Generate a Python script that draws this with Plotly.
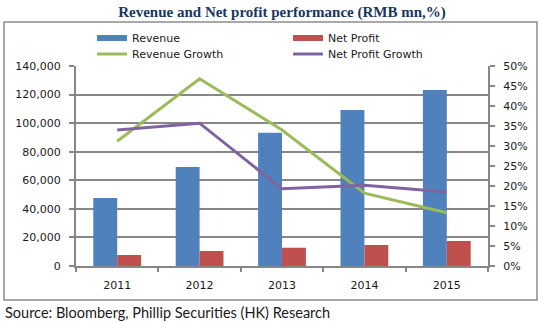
import plotly.graph_objects as go

years = ["2011", "2012", "2013", "2014", "2015"]
revenue = [47600, 69300, 93300, 109200, 123200]
net_profit = [7700, 10500, 12800, 14700, 17500]
revenue_growth = [31.2, 46.8, 34.0, 18.2, 13.3]
np_growth = [34.0, 35.7, 19.3, 20.2, 18.5]

left_ticks = [0, 20000, 40000, 60000, 80000, 100000, 120000, 140000]
right_ticks = [0, 5, 10, 15, 20, 25, 30, 35, 40, 45, 50]

C_REV = "#4F81BD"
C_NP = "#C0504D"
C_RG = "#9BBB59"
C_NG = "#8064A2"
GRID = "#878787"

W, H = 541, 323
L, R, T, B = 76, 488, 66, 266

def px_x(p):
    return (p - L) / (R - L)

def px_y(p):
    return (B - p) / (B - T)

fig = go.Figure()
fig.add_trace(go.Bar(x=years, y=revenue, name="Revenue", marker_color=C_REV,
                     marker_line_width=0, showlegend=False))
fig.add_trace(go.Bar(x=years, y=net_profit, name="Net Profit", marker_color=C_NP,
                     marker_line_width=0, showlegend=False))
fig.add_trace(go.Scatter(x=years, y=revenue_growth, name="Revenue Growth", mode="lines",
                         line=dict(color=C_RG, width=3), yaxis="y2", showlegend=False))
fig.add_trace(go.Scatter(x=years, y=np_growth, name="Net Profit Growth", mode="lines",
                         line=dict(color=C_NG, width=3), yaxis="y2", showlegend=False))

tickfont = dict(family="DejaVu Sans", size=11, color="#1a1a1a")
legfont = dict(family="DejaVu Sans", size=11, color="#1a1a1a")

# legend entries (bars shown as thick lines like the reference), one legend per slot
slots = [("Revenue", C_REV, 6, "legend", 92, 38),
         ("Net Profit", C_NP, 6, "legend2", 288, 38),
         ("Revenue Growth", C_RG, 3, "legend3", 92, 54),
         ("Net Profit Growth", C_NG, 3, "legend4", 288, 54)]
legend_layout = {}
for name, col, w, lg, lx, ly in slots:
    fig.add_trace(go.Scatter(x=[None], y=[None], name=name, mode="lines",
                             line=dict(color=col, width=w), legend=lg, showlegend=True))
    legend_layout[lg] = dict(orientation="h", x=px_x(lx), y=px_y(ly), xanchor="left",
                             yanchor="middle", font=legfont, bgcolor="rgba(0,0,0,0)",
                             borderwidth=0, itemwidth=30)

fig.update_layout(
    width=W, height=H,
    margin=dict(l=L, r=W - R, t=T, b=H - B, pad=0, autoexpand=False),
    paper_bgcolor="white", plot_bgcolor="white",
    barmode="group", bargap=0.42, bargroupgap=0,
    title=dict(text="<b>Revenue and Net profit performance (RMB mn,%)</b>",
               font=dict(family="Liberation Serif", size=15, color="#17375E"),
               x=0.5, xanchor="center", xref="paper", y=1 - 12 / H, yanchor="middle"),
    xaxis=dict(type="category", showgrid=False, showline=True, linecolor=GRID, linewidth=2,
               ticks="outside", tickson="boundaries", ticklen=4, tickcolor=GRID, tickwidth=2,
               tickfont=tickfont, ticklabelstandoff=8, automargin=False),
    yaxis=dict(range=[0, 140000], tickvals=left_ticks, ticktext=[f"{v:,}" for v in left_ticks],
               showgrid=True, gridcolor=GRID, gridwidth=2, showline=True, linecolor=GRID,
               linewidth=2, ticks="outside", ticklen=5, tickcolor=GRID, tickwidth=2,
               tickfont=tickfont, ticklabelstandoff=6, zeroline=False, automargin=False),
    yaxis2=dict(range=[0, 50], tickvals=right_ticks, ticktext=[f"{v}%" for v in right_ticks],
                overlaying="y", side="right", showgrid=False, showline=True, linecolor=GRID,
                linewidth=2, ticks="outside", ticklen=5, tickcolor=GRID, tickwidth=2,
                tickfont=tickfont, ticklabelstandoff=6, zeroline=False, automargin=False),
    showlegend=True,
    **legend_layout,
)

fig.add_shape(type="rect", xref="paper", yref="paper",
              x0=px_x(4), x1=px_x(537), y0=px_y(300), y1=px_y(22),
              line=dict(color="#8c8c8c", width=1.5), fillcolor="rgba(0,0,0,0)", layer="above")

fig.add_annotation(text="Source: Bloomberg, Phillip Securities (HK) Research",
                   xref="paper", yref="paper", x=px_x(3), y=px_y(312),
                   xanchor="left", yanchor="middle", showarrow=False,
                   font=dict(family="Lato", size=14.5, color="#1a1a1a"))

fig.write_html("out.html")
